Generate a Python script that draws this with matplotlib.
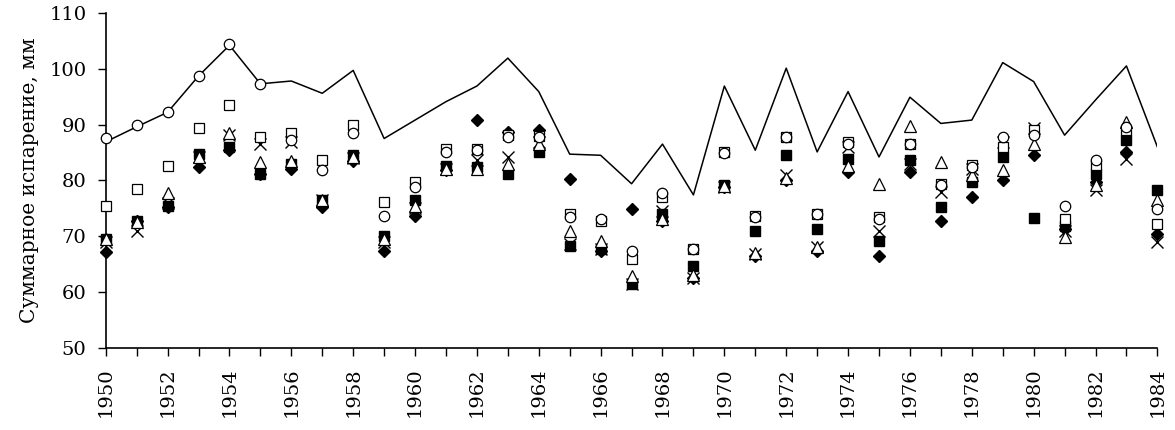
import numpy as np
import matplotlib.pyplot as plt

years = np.arange(1950, 1985)

# сплошная линия
line_vals = [86.9, 89.6, 92.2, 98.7, 104.2, 97.3, 97.8, 95.6, 99.7, 87.5,
             90.8, 94.1, 96.9, 101.9, 95.9, 84.7, 84.5, 79.4, 86.5, 77.4,
             96.9, 85.4, 100.1, 85.1, 95.9, 84.2, 94.9, 90.2, 90.8, 101.1,
             97.7, 88.1, 94.4, 100.5, 86.0]
# открытые кружки
circ_vals = [87.6, 89.9, 92.3, 98.7, 104.4, 97.3, 87.2, 81.8, 88.4, 73.7,
             78.8, 85.1, 85.5, 87.8, 87.8, 73.4, 73.0, 67.3, 77.7, 67.7,
             84.9, 73.4, 87.8, 74.0, 86.6, 73.1, 86.5, 79.1, 82.4, 87.8,
             88.1, 75.5, 83.7, 89.6, 74.9]
# открытые квадраты
sq_vals = [75.5, 78.4, 82.5, 89.3, 93.5, 87.8, 88.5, 83.6, 89.9, 76.1,
           79.7, 85.7, 85.7, 88.1, 88.0, 74.0, 72.8, 65.9, 77.0, 67.7,
           85.1, 73.7, 87.7, 74.0, 86.9, 73.4, 86.6, 79.3, 82.7, 86.0,
           89.0, 73.1, 82.7, 89.0, 72.1]
# открытые треугольники
tri_vals = [69.5, 72.5, 77.7, 84.2, 88.4, 83.3, 83.5, 76.5, 84.2, 69.5,
            75.5, 82.0, 82.0, 83.0, 86.5, 71.0, 69.2, 62.9, 73.0, 63.0,
            79.0, 67.0, 80.5, 68.0, 82.5, 79.4, 89.7, 83.3, 81.0, 81.8,
            86.6, 69.8, 79.1, 90.5, 76.4]
# крестики
x_vals = [69.0, 71.0, 76.0, 84.2, 88.1, 86.6, 86.9, 76.4, 84.0, 69.0,
          75.0, 82.0, 83.6, 84.2, 86.9, 68.6, 67.7, 61.4, 74.6, 62.6,
          78.8, 66.8, 80.9, 68.0, 86.0, 71.0, 83.0, 77.9, 82.0, 86.9,
          89.3, 71.0, 78.2, 83.9, 68.9]
# закрашенные квадраты
fsq_vals = [69.5, 72.8, 75.5, 84.7, 86.0, 81.2, 83.0, 76.5, 84.5, 70.0,
            76.4, 82.5, 82.4, 81.2, 85.1, 68.3, 67.7, 61.4, 74.0, 64.7,
            79.1, 71.0, 84.5, 71.3, 83.9, 69.2, 83.7, 75.2, 79.7, 84.2,
            73.3, 71.9, 81.2, 87.2, 78.3]
# закрашенные ромбы
dia_vals = [67.1, 72.8, 75.2, 82.4, 85.4, 81.2, 82.1, 75.2, 83.5, 67.4,
            73.7, 81.8, 90.8, 88.7, 89.0, 80.3, 67.4, 74.9, 72.8, 62.6,
            78.8, 66.5, 80.0, 67.4, 81.5, 66.5, 81.5, 72.8, 77.0, 80.0,
            84.5, 71.3, 79.7, 85.1, 70.4]

plt.rcParams['font.family'] = 'DejaVu Serif'

fig = plt.figure(figsize=(11.75, 4.3), dpi=100)
ax = fig.add_axes([0.090, 0.191, 0.895, 0.779])

ax.plot(years, line_vals, color='black', lw=1.1, zorder=2)
ax.plot(years, dia_vals, ls='none', marker='D', ms=6, color='black', clip_on=False, zorder=3)
ax.plot(years, fsq_vals, ls='none', marker='s', ms=6.5, color='black', clip_on=False, zorder=3)
ax.plot(years, x_vals, ls='none', marker='x', ms=8, mew=1.0, color='black', clip_on=False, zorder=4)
ax.plot(years, tri_vals, ls='none', marker='^', ms=8, mfc='white', mec='black', mew=0.9, clip_on=False, zorder=4)
ax.plot(years, sq_vals, ls='none', marker='s', ms=7, mfc='white', mec='black', mew=0.9, clip_on=False, zorder=5)
ax.plot(years, circ_vals, ls='none', marker='o', ms=7.5, mfc='white', mec='black', mew=0.9, clip_on=False, zorder=5)

ax.set_xlim(1950, 1984)
ax.set_ylim(50, 110)
ax.set_yticks(np.arange(50, 111, 10))
ax.set_xticks(years, minor=True)
ax.set_xticks(np.arange(1950, 1985, 2))
ax.set_xticklabels([str(y) for y in range(1950, 1985, 2)], rotation=90)
ax.tick_params(axis='both', which='both', direction='out', length=6, width=1, labelsize=14)
ax.tick_params(axis='y', pad=8)
ax.tick_params(axis='x', which='major', pad=8)
ax.set_ylabel('Суммарное испарение, мм', fontsize=14.5, labelpad=7)

for s in ['top', 'right']:
    ax.spines[s].set_visible(False)
for s in ['left', 'bottom']:
    ax.spines[s].set_linewidth(1.2)

fig.savefig('out.png', dpi=100)
